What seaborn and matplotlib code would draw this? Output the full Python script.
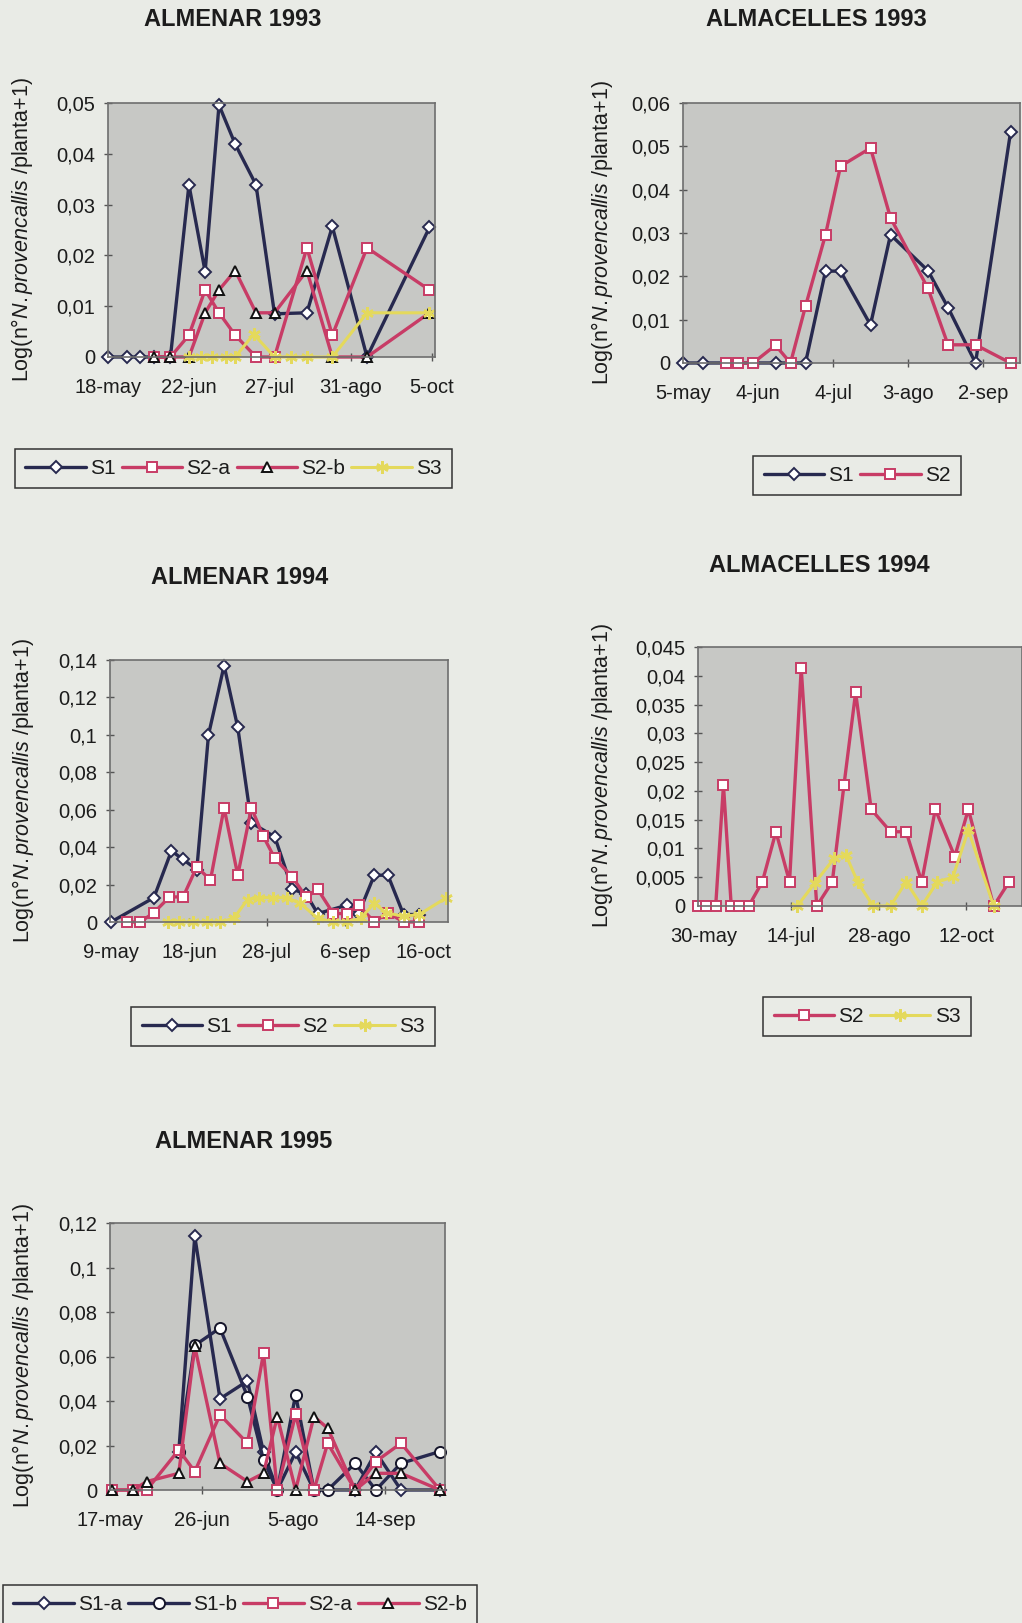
import matplotlib
matplotlib.use("Agg")
import matplotlib.pyplot as plt
import seaborn as sns
import numpy as np

# ---------------- DATA ----------------
# ALMENAR 1993 (x = days after 18-may)
a93_xticks = [0, 35, 70, 105, 140]
a93_xlabels = ["18-may", "22-jun", "27-jul", "31-ago", "5-oct"]
a93_yticks = [0, 0.01, 0.02, 0.03, 0.04, 0.05]
a93_ylabels = ["0", "0,01", "0,02", "0,03", "0,04", "0,05"]
a93_s1_x = [0, 8, 14, 20, 27, 35, 42, 48, 55, 64, 72, 86, 97, 112, 139]
a93_s1_y = [0, 0, 0, 0, 0, 0.0339, 0.0168, 0.0496, 0.0419, 0.0339, 0.0085, 0.0087, 0.0257, 0, 0.0255]
a93_s2a_x = [20, 27, 35, 42, 48, 55, 64, 72, 86, 97, 112, 139]
a93_s2a_y = [0, 0, 0.0043, 0.0132, 0.0087, 0.0043, 0, 0, 0.0215, 0.0043, 0.0215, 0.0132]
a93_s2b_x = [20, 27, 35, 42, 48, 55, 64, 72, 86, 97, 112, 139]
a93_s2b_y = [0, 0, 0, 0.0087, 0.0132, 0.0170, 0.0087, 0.0087, 0.0170, 0, 0, 0.0087]
a93_s3_x = [35, 40, 45, 51, 55, 63, 72, 79, 86, 97, 112, 139]
a93_s3_y = [0, 0, 0, 0, 0, 0.0045, 0, 0, 0, 0, 0.0087, 0.0087]

# ALMACELLES 1993 (x = days after 5-may)
c93_xticks = [0, 30, 60, 90, 120]
c93_xlabels = ["5-may", "4-jun", "4-jul", "3-ago", "2-sep"]
c93_yticks = [0, 0.01, 0.02, 0.03, 0.04, 0.05, 0.06]
c93_ylabels = ["0", "0,01", "0,02", "0,03", "0,04", "0,05", "0,06"]
c93_s1_x = [0, 8, 37, 49, 57, 63, 75, 83, 98, 106, 117, 131]
c93_s1_y = [0, 0, 0, 0, 0.0212, 0.0212, 0.0088, 0.0296, 0.0213, 0.0128, 0, 0.0532]
c93_s2_x = [17, 22, 28, 37, 43, 49, 57, 63, 75, 83, 98, 106, 117, 131]
c93_s2_y = [0, 0, 0, 0.0041, 0, 0.0131, 0.0296, 0.0454, 0.0496, 0.0335, 0.0172, 0.0042, 0.0042, 0]

# ALMENAR 1994 (x = days after 9-may)
a94_xticks = [0, 40, 80, 120, 160]
a94_xlabels = ["9-may", "18-jun", "28-jul", "6-sep", "16-oct"]
a94_yticks = [0, 0.02, 0.04, 0.06, 0.08, 0.10, 0.12, 0.14]
a94_ylabels = ["0", "0,02", "0,04", "0,06", "0,08", "0,1", "0,12", "0,14"]
a94_s1_x = [0, 22, 31, 37, 44, 50, 58, 65, 72, 84, 93, 100, 106, 121, 127, 135, 142, 150, 158]
a94_s1_y = [0, 0.013, 0.038, 0.0334, 0.028, 0.100, 0.137, 0.104, 0.053, 0.0455, 0.0175, 0.015,
            0.0045, 0.009, 0.0045, 0.025, 0.025, 0.004, 0.004]
a94_s2_x = [8, 15, 22, 30, 37, 44, 51, 58, 65, 72, 78, 84, 93, 100, 106, 114, 121, 127, 135, 142, 150, 158]
a94_s2_y = [0, 0, 0.005, 0.0134, 0.0134, 0.0295, 0.0224, 0.061, 0.025, 0.061, 0.046, 0.034, 0.024,
            0.0134, 0.0175, 0.0045, 0.0045, 0.009, 0, 0.005, 0, 0]
a94_s3_x = [29, 35, 42, 49, 56, 63, 70, 76, 83, 90, 97, 106, 114, 121, 128, 135, 141, 150, 158, 172]
a94_s3_y = [0, 0, 0, 0, 0, 0.002, 0.012, 0.013, 0.013, 0.013, 0.010, 0.002, 0, 0, 0.002, 0.010,
            0.005, 0.003, 0.004, 0.013]

# ALMACELLES 1994 (x = days after 30-may)
c94_xticks = [0, 45, 90, 135]
c94_xlabels = ["30-may", "14-jul", "28-ago", "12-oct"]
c94_yticks = [0, 0.005, 0.01, 0.015, 0.02, 0.025, 0.03, 0.035, 0.04, 0.045]
c94_ylabels = ["0", "0,005", "0,01", "0,015", "0,02", "0,025", "0,03", "0,035", "0,04", "0,045"]
c94_s2_x = [-3, 1, 6, 10, 14, 18, 23, 30, 37, 44, 50, 58, 66, 72, 78, 86, 96, 104, 112, 119, 129, 136, 149, 157]
c94_s2_y = [0, 0, 0, 0.021, 0, 0, 0, 0.0042, 0.0129, 0.0042, 0.0413, 0, 0.0042, 0.021, 0.0371,
            0.0168, 0.0129, 0.0129, 0.0042, 0.0168, 0.0086, 0.0168, 0, 0.0042]
c94_s3_x = [48, 57, 67, 73, 79, 87, 96, 104, 112, 120, 128, 136, 149]
c94_s3_y = [0, 0.004, 0.0083, 0.0089, 0.0042, 0, 0, 0.0042, 0, 0.0042, 0.005, 0.0132, 0]

# ALMENAR 1995 (x = days after 17-may)
a95_xticks = [0, 40, 80, 120]
a95_xlabels = ["17-may", "26-jun", "5-ago", "14-sep"]
a95_yticks = [0, 0.02, 0.04, 0.06, 0.08, 0.10, 0.12]
a95_ylabels = ["0", "0,02", "0,04", "0,06", "0,08", "0,1", "0,12"]
a95_s1_x = [30, 37, 48, 60, 67, 73, 81, 89, 95, 107, 116, 127, 144]
a95_s1a_y = [0.017, 0.114, 0.041, 0.049, 0.017, 0, 0.017, 0, 0, 0, 0.017, 0, 0]
a95_s1b_y = [0.017, 0.065, 0.0728, 0.042, 0.0135, 0, 0.0428, 0, 0, 0.012, 0, 0.012, 0.0173]
a95_s2_x = [1, 10, 16, 30, 37, 48, 60, 67, 73, 81, 89, 95, 107, 116, 127, 144]
a95_s2a_y = [0, 0, 0, 0.018, 0.0083, 0.0338, 0.021, 0.0615, 0, 0.034, 0, 0.021, 0, 0.0128, 0.021, 0]
a95_s2b_y = [0, 0, 0.0038, 0.0075, 0.0645, 0.012, 0.0038, 0.0075, 0.033, 0, 0.033, 0.0278, 0, 0.0075, 0.0075, 0]

# ---------------- STYLE ----------------
sns.set_theme(style="white")
plt.rcParams["font.family"] = ["Liberation Sans", "DejaVu Sans"]
plt.rcParams["mathtext.fontset"] = "custom"
plt.rcParams["mathtext.rm"] = "Liberation Sans"
plt.rcParams["mathtext.it"] = "Liberation Sans:italic"

W, H = 1022, 1623
PAGE = "#e9ebe6"
PLOT = "#c7c8c5"
NAVY = "#27294f"
PINK = "#c83c66"
YELL = "#e4d95c"
TXT = "#1c1c1c"
YLAB = r"Log(n°$\it{N.provencallis}$ /planta+1)"

fig = plt.figure(figsize=(W / 100, H / 100), dpi=100)
fig.patch.set_facecolor(PAGE)


def mk_axes(l, t, r, b):
    return fig.add_axes([l / W, 1 - b / H, (r - l) / W, (b - t) / H])


def style(ax, xlim, ymax, yt, yl, xt, xl):
    ax.set_facecolor(PLOT)
    ax.set_xlim(*xlim)
    ax.set_ylim(0, ymax)
    ax.set_yticks(yt)
    ax.set_yticklabels(yl)
    ax.set_xticks(xt)
    ax.set_xticklabels(xl)
    ax.set_xlabel("")
    ax.set_ylabel("")
    for s in ax.spines.values():
        s.set_color("#6e6e6e")
        s.set_linewidth(1.2)
    ax.tick_params(axis="both", direction="inout", length=6, width=1, color="#555555",
                   labelsize=14.5, labelcolor=TXT)
    ax.tick_params(axis="x", pad=12)
    ax.tick_params(axis="y", pad=6)
    ax.tick_params(left=True, bottom=True)


def line(ax, x, y, color, marker, mfc, mec, label, ms=7, lw=2.4, mew=1.4):
    sns.lineplot(x=x, y=y, ax=ax, color=color, marker=marker, markersize=ms,
                 markerfacecolor=mfc, markeredgecolor=mec, markeredgewidth=mew,
                 linewidth=lw, estimator=None, sort=False, label=label, clip_on=False)


def S1(ax, x, y, label="S1"):
    line(ax, x, y, NAVY, "D", "white", NAVY, label, ms=6)


def S1b(ax, x, y, label="S1-b"):
    line(ax, x, y, NAVY, "o", "white", "#15152a", label, ms=8)


def S2(ax, x, y, label="S2"):
    line(ax, x, y, PINK, "s", "white", PINK, label, ms=7.5)


def S2b(ax, x, y, label="S2-b"):
    line(ax, x, y, PINK, "^", "white", "#111111", label, ms=7.5)


def S3(ax, x, y, label="S3"):
    line(ax, x, y, YELL, (6, 2, 0), YELL, YELL, label, ms=9, lw=2.2, mew=1.8)


def title(x, y, s):
    fig.text(x / W, 1 - y / H, s, ha="center", va="center", fontsize=17,
             fontweight="bold", color=TXT)


def ylab(x, y):
    fig.text(x / W, 1 - y / H, YLAB, ha="center", va="center", rotation=90,
             fontsize=15.5, color=TXT)


def legend(ax, l, t, r, b, ncol):
    cx = (l + r) / 2 / W
    cy = 1 - (t + b) / 2 / H
    lg = ax.legend(loc="center", bbox_to_anchor=(cx, cy), bbox_transform=fig.transFigure,
                   ncol=ncol, fontsize=15, frameon=True, fancybox=False, handlelength=2.9,
                   handletextpad=0.2, columnspacing=0.3, borderpad=0.5)
    fr = lg.get_frame()
    fr.set_edgecolor("#333333")
    fr.set_linewidth(1.1)
    fr.set_facecolor(PAGE)
    fr.set_alpha(1)
    for t_ in lg.get_texts():
        t_.set_color(TXT)


# ---------------- PANEL 1: ALMENAR 1993 ----------------
ax1 = mk_axes(108, 103, 435, 357)
S1(ax1, a93_s1_x, a93_s1_y, "S1")
S2(ax1, a93_s2a_x, a93_s2a_y, "S2-a")
S2b(ax1, a93_s2b_x, a93_s2b_y, "S2-b")
S3(ax1, a93_s3_x, a93_s3_y, "S3")
style(ax1, (0, 141.4), 0.05, a93_yticks, a93_ylabels, a93_xticks, a93_xlabels)
legend(ax1, 15, 447, 452, 490, 4)
title(233, 20, "ALMENAR 1993")
ylab(22, 230)

# ---------------- PANEL 2: ALMACELLES 1993 ----------------
ax2 = mk_axes(683, 103, 1020, 363)
S1(ax2, c93_s1_x, c93_s1_y, "S1")
S2(ax2, c93_s2_x, c93_s2_y, "S2")
style(ax2, (0, 134.8), 0.06, c93_yticks, c93_ylabels, c93_xticks, c93_xlabels)
legend(ax2, 756, 452, 958, 499, 2)
title(816, 20, "ALMACELLES 1993")
ylab(602, 233)

# ---------------- PANEL 3: ALMENAR 1994 ----------------
ax3 = mk_axes(110, 660, 448, 922)
S1(ax3, a94_s1_x, a94_s1_y, "S1")
S2(ax3, a94_s2_x, a94_s2_y, "S2")
S3(ax3, a94_s3_x, a94_s3_y, "S3")
style(ax3, (-0.5, 172.8), 0.14, a94_yticks, a94_ylabels, a94_xticks, a94_xlabels)
legend(ax3, 133, 1002, 433, 1051, 3)
title(240, 577, "ALMENAR 1994")
ylab(23, 791)

# ---------------- PANEL 4: ALMACELLES 1994 ----------------
ax4 = mk_axes(698, 647, 1022, 906)
S2(ax4, c94_s2_x, c94_s2_y, "S2")
S3(ax4, c94_s3_x, c94_s3_y, "S3")
style(ax4, (-3.1, 163.6), 0.045, c94_yticks, c94_ylabels, c94_xticks, c94_xlabels)
legend(ax4, 766, 992, 968, 1041, 2)
title(819, 565, "ALMACELLES 1994")
ylab(602, 776)

# ---------------- PANEL 5: ALMENAR 1995 ----------------
ax5 = mk_axes(110, 1223, 445, 1490)
S1(ax5, a95_s1_x, a95_s1a_y, "S1-a")
S1b(ax5, a95_s1_x, a95_s1b_y, "S1-b")
S2(ax5, a95_s2_x, a95_s2a_y, "S2-a")
S2b(ax5, a95_s2_x, a95_s2b_y, "S2-b")
style(ax5, (0, 146.2), 0.12, a95_yticks, a95_ylabels, a95_xticks, a95_xlabels)
legend(ax5, 3, 1582, 477, 1628, 4)
title(244, 1142, "ALMENAR 1995")
ylab(23, 1356)

fig.savefig("out.png", dpi=100, facecolor=PAGE)
